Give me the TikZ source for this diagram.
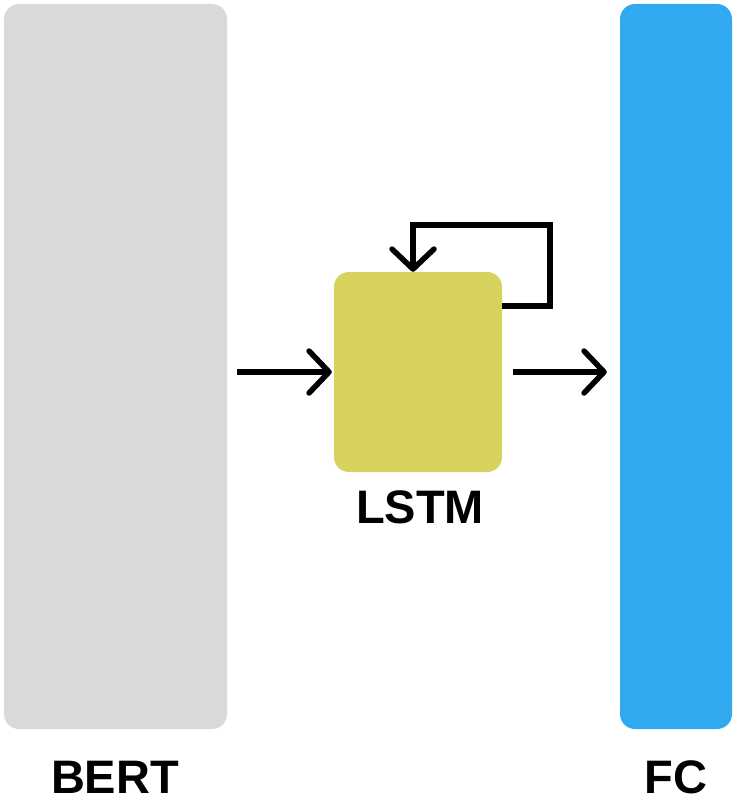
\documentclass[tikz,border=0pt]{standalone}
\usepackage{fontspec}
\setmainfont{Liberation Sans}
\usetikzlibrary{arrows.meta}
\definecolor{bertgray}{HTML}{D9D9D9}
\definecolor{fcblue}{HTML}{31A9EF}
\definecolor{lstmyellow}{HTML}{D7D15D}
\tikzset{
    block/.style = {inner sep=0pt, rounded corners=15pt},
    caption/.style = {font=\fontsize{47}{56}\selectfont\bfseries},
    arr/.style = {line width=5.5pt, -{Straight Barb[length=20pt,width=42pt,line cap=round,line join=round]}}
}
\begin{document}
\begin{tikzpicture}[x=1pt,y=-1pt]
    \useasboundingbox (0,0) rectangle (735,810);
    \node[block, fill=bertgray, minimum width=223pt, minimum height=725pt] (BERT) at (115.5,366.5) {};
    \node[block, fill=fcblue, minimum width=112pt, minimum height=725pt] (FC) at (676,366.5) {};
    \node[block, fill=lstmyellow, minimum width=168pt, minimum height=200pt] (LSTM) at (418,372) {};

    \node[caption] (BERTtext) at (115,777) {BERT};
    \node[caption] (FCtext) at (676,777) {FC};
    \node[caption] (LSTMtext) at (420,507) {LSTM};

    \coordinate (loop) at (550,225);

    \draw[arr, shorten <=10pt, shorten >=2pt] (BERT.east |- LSTM.west) -- (LSTM.west);
    \draw[arr, shorten <=11pt, shorten >=13pt] (LSTM.east) -- (LSTM.east -| FC.west);
    \draw[arr] (LSTM.north east) ++(0,34) -| (loop) -| ([xshift=-5pt]LSTM.north);
\end{tikzpicture}
\end{document}
